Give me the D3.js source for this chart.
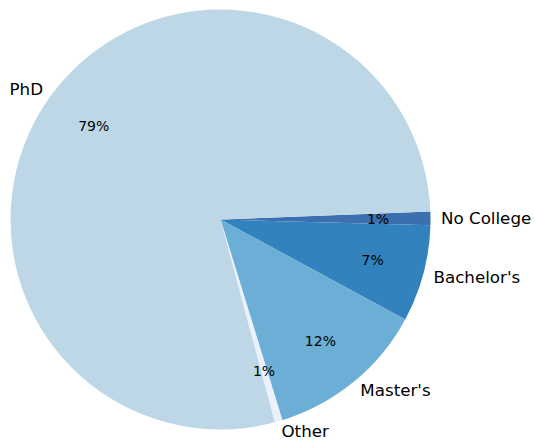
<!DOCTYPE html>
<html>
<head>
<meta charset="utf-8">
<script src="https://cdn.jsdelivr.net/npm/d3@7"></script>
<style>
  body { margin: 0; background: #fff; }
  text { font-family: "DejaVu Sans", sans-serif; fill: #000; }
</style>
</head>
<body>
<script>
// slices, clockwise from just above 3 o'clock
const categories = ["No College", "Bachelor's", "Master's", "Other", "PhD"];
const shares = [1.05, 7.45, 12.35, 0.6, 78.55];
const colors = ["#3c6fb0", "#3182bd", "#6baed6", "#eaf1fb", "#bdd7e7"];

let width = 535
let height = 442
const cx = 220.5, cy = 219.5, r = 210;

let svg = d3.select('body')
    .append('svg')
    .attr('width', width)
    .attr('height', height);

let plot = svg.append('g').attr('transform', `translate(${cx},${cy})`);

// start a little above east (2.2 deg), go clockwise
let start = (90 - 2.2) * Math.PI / 180;
let pie = d3.pie().sort(null).value(d => d.v)
    .startAngle(start).endAngle(start + 2 * Math.PI);

let data = categories.map((c, i) => ({ name: c, v: shares[i], color: colors[i] }));
let arcs = pie(data);
let total = d3.sum(shares);

let arc = d3.arc().innerRadius(0).outerRadius(r);

plot.selectAll('path.slice').data(arcs)
    .join('path')
    .attr('class', 'slice')
    .attr('d', arc)
    .attr('fill', d => d.data.color);

const mid = d => (d.startAngle + d.endAngle) / 2;

// category labels at 1.05 r
plot.selectAll('text.lbl').data(arcs)
    .join('text')
    .attr('class', 'lbl')
    .attr('x', d => Math.sin(mid(d)) * r * 1.05)
    .attr('y', d => -Math.cos(mid(d)) * r * 1.05)
    .attr('text-anchor', d => Math.sin(mid(d)) > 0 ? 'start' : 'end')
    .attr('dominant-baseline', 'central')
    .style('font-size', '16.7px')
    .text(d => d.data.name);

// percentages at 0.75 r
plot.selectAll('text.pct').data(arcs)
    .join('text')
    .attr('class', 'pct')
    .attr('x', d => Math.sin(mid(d)) * r * 0.75)
    .attr('y', d => -Math.cos(mid(d)) * r * 0.75)
    .attr('text-anchor', 'middle')
    .attr('dominant-baseline', 'central')
    .style('font-size', '14px')
    .text(d => Math.round(d.data.v / total * 100) + '%');
</script>
</body>
</html>
